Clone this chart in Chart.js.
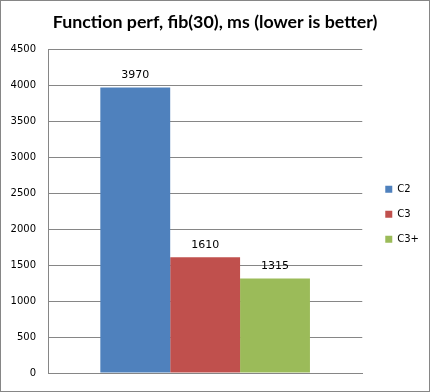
<!DOCTYPE html>
<html><head><meta charset="utf-8">
<script src="https://cdn.jsdelivr.net/npm/chart.js@4.4.1/dist/chart.umd.min.js"></script>
<style>
html,body{margin:0;padding:0;background:#fff;}
#wrap{width:430px;height:392px;box-sizing:border-box;border:1px solid #868686;position:relative;}
canvas{display:block;}
</style></head>
<body>
<div id="wrap"><canvas id="c" width="428" height="390"></canvas></div>
<script>
const categories = [''];
const seriesNames = ['C2', 'C3', 'C3+'];
const c2Values = [3970];
const c3Values = [1610];
const c3plusValues = [1315];
const seriesColors = ['#4F81BD', '#C0504D', '#9BBB59'];
const yTicks = [0, 500, 1000, 1500, 2000, 2500, 3000, 3500, 4000, 4500];
const titleText = 'Function perf, fib(30), ms (lower is better)';

const grid = '#868686';
const valueLabels = {
  id: 'valueLabels',
  afterDatasetsDraw(chart) {
    const ctx = chart.ctx;
    ctx.save();
    ctx.font = '11px "DejaVu Sans"';
    ctx.fillStyle = '#000';
    ctx.textAlign = 'center';
    ctx.textBaseline = 'middle';
    chart.data.datasets.forEach((ds, i) => {
      const meta = chart.getDatasetMeta(i);
      meta.data.forEach((bar, j) => {
        ctx.fillText(String(ds.data[j]), bar.x, bar.y - 12);
      });
    });
    ctx.restore();
  }
};

new Chart(document.getElementById('c'), {
  type: 'bar',
  data: {
    labels: categories,
    datasets: [
      { label: seriesNames[0], data: c2Values, backgroundColor: seriesColors[0] },
      { label: seriesNames[1], data: c3Values, backgroundColor: seriesColors[1] },
      { label: seriesNames[2], data: c3plusValues, backgroundColor: seriesColors[2] }
    ]
  },
  options: {
    responsive: false,
    animation: false,
    devicePixelRatio: 1,
    layout: { padding: { left: 0, right: 0, top: 0, bottom: 9 } },
    datasets: { bar: { barPercentage: 1, categoryPercentage: 0.667, borderWidth: 0 } },
    scales: {
      x: {
        grid: { display: false },
        border: { display: true, color: grid, width: 1 },
        ticks: { display: false }
      },
      y: {
        min: 0, max: 4500,
        afterBuildTicks(s) { s.ticks = yTicks.map(v => ({ value: v })); },
        afterFit(s) { s.width = 47; },
        grid: { color: grid, drawTicks: false, lineWidth: 1 },
        border: { display: true, color: grid, width: 1 },
        ticks: { padding: 12, color: '#000', font: { family: '"DejaVu Sans"', size: 10 }, callback: v => String(v) }
      },
      spacer: {
        position: 'right',
        display: true,
        grid: { display: false },
        border: { display: false },
        ticks: { display: false },
        afterFit(s) { s.width = 8; }
      }
    },
    plugins: {
      title: {
        display: true,
        text: titleText,
        color: '#000',
        font: { family: 'Lato', weight: 'bold', size: 17.8, lineHeight: 1.2 },
        padding: { top: 11, bottom: 16 }
      },
      legend: {
        position: 'right',
        fullSize: false,
        title: { display: true, text: ' ', font: { size: 5, lineHeight: 1 }, padding: 0.5 },
        labels: {
          boxWidth: 7, boxHeight: 7, padding: 15,
          color: '#000',
          font: { family: '"DejaVu Sans"', size: 10 }
        }
      },
      tooltip: { enabled: false }
    }
  },
  plugins: [valueLabels]
});
</script>
</body></html>
